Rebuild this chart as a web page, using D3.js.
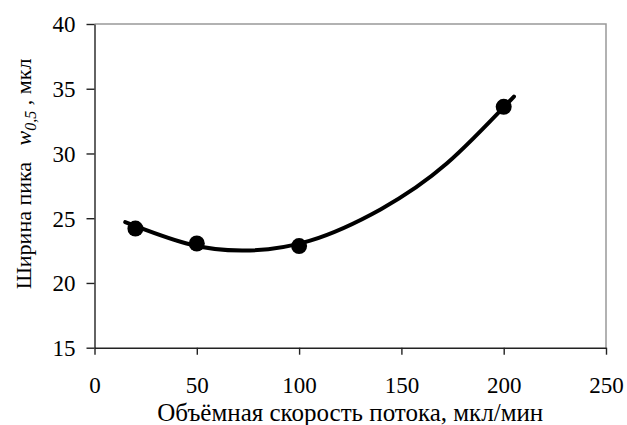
<!DOCTYPE html>
<html lang="ru">
<head>
<meta charset="utf-8">
<script src="https://d3js.org/d3.v7.min.js"></script>
<style>
  body { margin: 0; background: #fff; }
  text { font-family: "Liberation Serif", "Times New Roman", serif; fill: #000; }
</style>
</head>
<body>
<script>
// measured points
var flowRate = [20, 50, 100, 200];
var peakWidth = [24.2, 23.05, 22.85, 33.6];

// trend curve
var trendX = [15, 45, 73, 105, 140, 172, 205];
var trendY = [24.7, 23.05, 22.5, 23.25, 25.7, 29.2, 34.4];

var xTicks = [0, 50, 100, 150, 200, 250];
var yTicks = [15, 20, 25, 30, 35, 40];

var width = 627, height = 425;
var plotL = 94.5, plotR = 606, plotT = 24, plotB = 347.7;

var svg = d3.select("body").append("svg")
    .attr("width", width)
    .attr("height", height);

var x = d3.scaleLinear().domain([0, 250]).range([plotL, plotR]);
var y = d3.scaleLinear().domain([15, 40]).range([plotB, plotT]);

// top and right frame
svg.append("path")
    .attr("d", "M" + plotL + "," + plotT + "H" + plotR + "V" + plotB)
    .attr("fill", "none")
    .attr("stroke", "#999")
    .attr("stroke-width", 1.5);

var xAxis = svg.append("g")
    .attr("transform", "translate(0," + plotB + ")")
    .call(d3.axisBottom(x).tickValues(xTicks).tickSizeInner(7).tickSizeOuter(0));

var yAxis = svg.append("g")
    .attr("transform", "translate(" + plotL + ",0)")
    .call(d3.axisLeft(y).tickValues(yTicks).tickSizeInner(8).tickSizeOuter(0));

[xAxis, yAxis].forEach(function (g) {
    g.selectAll("path, line").attr("stroke", "#222").attr("stroke-width", 1.4);
    g.selectAll("text")
        .attr("font-family", "Liberation Serif")
        .attr("font-size", 23)
        .attr("fill", "#000");
});
xAxis.selectAll("text").attr("y", 45).attr("dy", 0);
yAxis.selectAll("text").attr("x", -19).attr("dy", "0.34em");

// trend line
var trend = trendX.map(function (d, i) { return [d, trendY[i]]; });
svg.append("path")
    .datum(trend)
    .attr("fill", "none")
    .attr("stroke", "#000")
    .attr("stroke-width", 4)
    .attr("stroke-linecap", "round")
    .attr("d", d3.line()
        .x(function (d) { return x(d[0]); })
        .y(function (d) { return y(d[1]); })
        .curve(d3.curveNatural));

// points
svg.selectAll(".pt")
    .data(flowRate)
    .enter()
    .append("circle")
    .attr("class", "pt")
    .attr("cx", function (d) { return x(d); })
    .attr("cy", function (d, i) { return y(peakWidth[i]); })
    .attr("r", 8)
    .attr("fill", "#000");

// axis titles
svg.append("text")
    .attr("x", (plotL + plotR) / 2)
    .attr("y", 421)
    .attr("text-anchor", "middle")
    .attr("font-size", 25)
    .text("Объёмная скорость потока, мкл/мин");

var yt = svg.append("text")
    .attr("transform", "translate(31,174) rotate(-90)")
    .attr("text-anchor", "middle")
    .attr("font-size", 22);
yt.append("tspan").text("Ширина пика\u00a0\u00a0 ");
yt.append("tspan").attr("font-style", "italic").text("w");
yt.append("tspan").attr("font-style", "italic").attr("font-size", 16).attr("dy", 5).text("0,5");
yt.append("tspan").attr("dy", -5).text(" , мкл");
</script>
</body>
</html>
